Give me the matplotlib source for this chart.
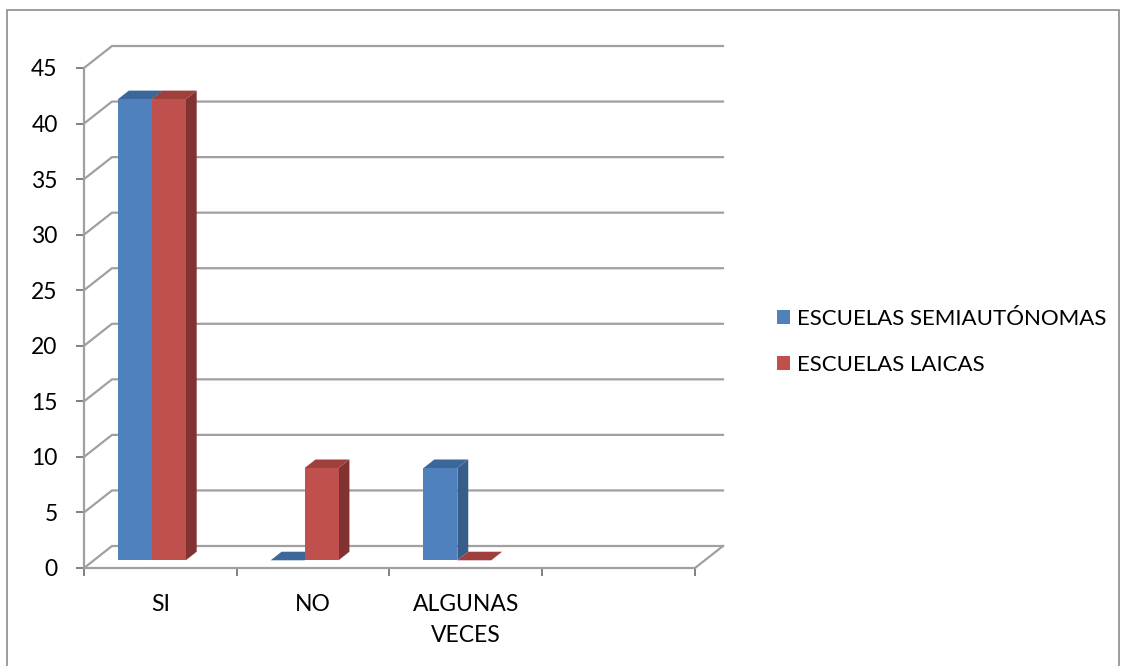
import matplotlib.pyplot as plt
import numpy as np
from matplotlib.patches import Patch, Rectangle

categories = ["SI", "NO", "ALGUNAS\nVECES", ""]
series_names = ["ESCUELAS SEMIAUTÓNOMAS", "ESCUELAS LAICAS"]
semiautonomas = [41.5, 0, 8.3]
laicas = [41.5, 8.3, 0]
y_ticks = list(range(0, 50, 5))

front_colors = ["#4F81BD", "#C0504D"]
top_colors = ["#3C6799", "#A0403D"]
side_colors = ["#385D8A", "#803330"]
grid_color = "#A0A0A0"

plt.rcParams["font.family"] = ["Lato", "DejaVu Sans"]

W, H = 1129, 666
fig = plt.figure(figsize=(W / 100, H / 100), dpi=100)
ax = fig.add_axes([84 / W, (H - 568) / H, 611 / W, 500 / H])
ax.set_xlim(0, 4)
ax.set_ylim(0, 45)

# pseudo 3d depth in data units
dx = 28 / 152.75
dy = 22 / (500 / 45)
d_front, d_back = 0.35, 0.74
bar_w = 0.222
group_off = -0.12

# walls / gridlines
for y in y_ticks:
    ax.plot([0, dx, 4 + dx], [y, y + dy, y + dy], color=grid_color, lw=1.6,
            clip_on=False, zorder=1, solid_joinstyle="miter")
ax.plot([4, 4 + dx], [0, dy], color=grid_color, lw=1.6, clip_on=False, zorder=1)


def draw_bar(x0, h, k):
    x1 = x0 + bar_w
    sx0, sy0 = dx * d_front, dy * d_front
    sx1, sy1 = dx * d_back, dy * d_back
    fx0, fx1 = x0 + sx0, x1 + sx0
    fb, ft = sy0, h + sy0
    top = [(fx0, ft), (fx1, ft), (x1 + sx1, h + sy1), (x0 + sx1, h + sy1)]
    if h > 0:
        side = [(fx1, fb), (x1 + sx1, sy1), (x1 + sx1, h + sy1), (fx1, ft)]
        ax.fill(*zip(*side), color=side_colors[k], lw=0, clip_on=False, zorder=3)
    ax.fill(*zip(*top), color=top_colors[k], lw=0, clip_on=False, zorder=3)
    if h > 0:
        ax.fill([fx0, fx1, fx1, fx0], [fb, fb, ft, ft], color=front_colors[k],
                lw=0, clip_on=False, zorder=3)


for i in range(len(semiautonomas)):
    base = i + 0.5 + group_off - bar_w
    draw_bar(base, semiautonomas[i], 0)
    draw_bar(base + bar_w, laicas[i], 1)

for s in ["top", "right"]:
    ax.spines[s].set_visible(False)
for s in ["left", "bottom"]:
    ax.spines[s].set_color(grid_color)
    ax.spines[s].set_linewidth(1.6)
    ax.spines[s].set_zorder(2)

ax.set_yticks(y_ticks)
ax.tick_params(axis="y", direction="out", length=6, width=1.4, color="#808080",
               pad=13, labelsize=16.5)
ax.set_xticks(np.arange(0, 5))
ax.set_xticklabels([])
ax.set_xticks(np.arange(len(categories)) + 0.5, minor=True)
ax.set_xticklabels(categories, minor=True, fontsize=16.5, linespacing=1.55, va="top")
ax.tick_params(axis="x", which="major", direction="out", length=6, width=1.4,
               color="#808080")
ax.tick_params(axis="x", which="minor", length=0, pad=19)
ax.set_facecolor("none")

handles = [Patch(facecolor=c, edgecolor="none") for c in front_colors]
fig.legend(handles, series_names, loc="center left",
           bbox_to_anchor=(768 / W, (H - 342) / H), frameon=False, fontsize=16,
           handlelength=0.6, handleheight=0.6, handletextpad=0.3,
           labelspacing=1.15, borderaxespad=0)

fig.patches.append(Rectangle((7 / W, -0.02), (1119 - 7) / W, (H - 10) / H + 0.02,
                             transform=fig.transFigure, fill=False,
                             edgecolor="#8C8C8C", lw=1.2))

fig.savefig("out.png", dpi=100)
